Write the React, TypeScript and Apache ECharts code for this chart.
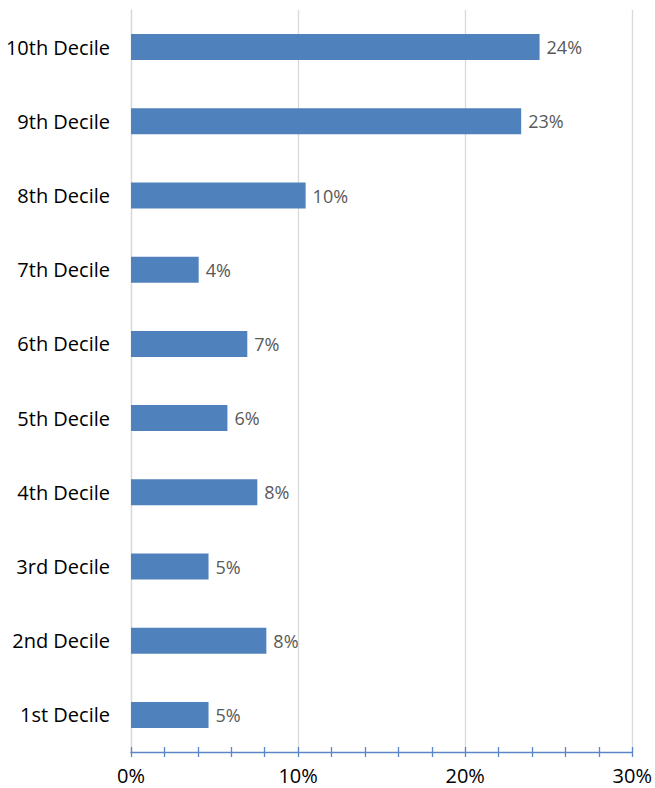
import React, { useEffect, useRef } from "react";
import * as echarts from "echarts";

const categories = [
  "1st Decile",
  "2nd Decile",
  "3rd Decile",
  "4th Decile",
  "5th Decile",
  "6th Decile",
  "7th Decile",
  "8th Decile",
  "9th Decile",
  "10th Decile",
];
const values = [4.64, 8.1, 4.64, 7.56, 5.77, 6.96, 4.05, 10.45, 23.35, 24.45];
const xMin = 0;
const xMax = 30;

export default function App() {
  const ref = useRef<HTMLDivElement>(null);
  useEffect(() => {
    document.body.style.margin = "0";
    if (!ref.current) return;
    const chart = echarts.init(ref.current, undefined, { renderer: "svg" });
    const font = "'Open Sans', 'Noto Sans', sans-serif";
    const tickAxisBase = {
      type: "value",
      gridIndex: 0,
      position: "bottom",
      min: xMin,
      max: xMax,
      interval: 2,
      axisLine: { show: false },
      axisLabel: { show: false },
      splitLine: { show: false },
    };
    chart.setOption({
      animation: false,
      grid: { left: 131, right: 20, top: 10, bottom: 36, containLabel: false },
      xAxis: [
        {
          type: "value",
          min: xMin,
          max: xMax,
          interval: 10,
          position: "bottom",
          axisLine: { show: true, lineStyle: { color: "#5b86c5", width: 1.3 } },
          axisTick: { show: false },
          axisLabel: {
            formatter: "{value}%",
            fontSize: 20,
            color: "#000",
            fontFamily: font,
            margin: 13,
          },
          splitLine: { show: true, lineStyle: { color: "#d9d9d9", width: 1.3 } },
        },
        {
          ...tickAxisBase,
          axisTick: { show: true, inside: false, length: 5, lineStyle: { color: "#5b86c5", width: 1.3 } },
        },
        {
          ...tickAxisBase,
          axisTick: { show: true, inside: true, length: 5, lineStyle: { color: "#5b86c5", width: 1.3 } },
        },
      ],
      yAxis: {
        type: "category",
        data: categories,
        axisLine: { show: true, lineStyle: { color: "#d9d9d9", width: 1.3 } },
        axisTick: { show: false },
        axisLabel: {
          fontSize: 20,
          color: "#000",
          fontFamily: font,
          margin: 21,
        },
      },
      series: [
        {
          type: "bar",
          xAxisIndex: 0,
          data: values,
          barWidth: 26,
          itemStyle: { color: "#4f81bd" },
          label: {
            show: true,
            position: "right",
            distance: 7,
            fontSize: 18,
            color: "#595959",
            fontFamily: font,
            formatter: (p: any) => Math.round(p.value) + "%",
          },
        },
      ],
    });
    return () => chart.dispose();
  }, []);
  return <div ref={ref} style={{ width: 655, height: 788 }} />;
}
